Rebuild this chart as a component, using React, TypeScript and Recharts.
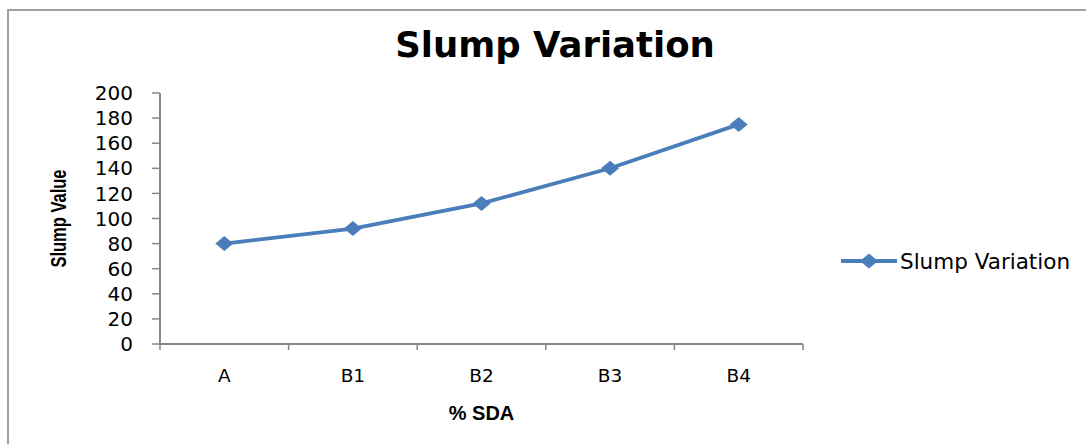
import React from "react";
import { LineChart, Line, XAxis, YAxis, Legend } from "recharts";

const categories = ["A", "B1", "B2", "B3", "B4"];
const slumpValues = [80, 92, 112, 140, 175];
const yTicks = [0, 20, 40, 60, 80, 100, 120, 140, 160, 180, 200];
const seriesName = "Slump Variation";

const BLUE = "#4a7ebb";
const GRID = "#888888";
const FONT = "'DejaVu Sans', Verdana, sans-serif";

const data = categories.map((name, i) => ({ x: i, name, slump: slumpValues[i] }));

// category centres get the labels, the half steps get the tick marks (Excel style)
const xTicks: number[] = [];
for (let i = 0; i <= categories.length; i++) {
  xTicks.push(i - 0.5);
  if (i < categories.length) xTicks.push(i);
}

const Diamond = ({ cx, cy }: any) => {
  if (cx == null || cy == null) return null;
  return (
    <path
      d={`M${cx},${cy - 7.5} L${cx + 9},${cy} L${cx},${cy + 7.5} L${cx - 9},${cy} Z`}
      fill={BLUE}
    />
  );
};

const XTick = ({ x, y, payload }: any) => {
  const v = payload.value;
  if (Number.isInteger(v)) {
    return (
      <text x={x} y={y + 32} textAnchor="middle" fontSize={18.5} fill="#000" fontFamily={FONT}>
        {categories[v]}
      </text>
    );
  }
  return <line x1={x} x2={x} y1={y - 6} y2={y} stroke={GRID} strokeWidth={1.5} />;
};

const YLabel = ({ viewBox }: any) => {
  const cx = viewBox.x - 22;
  const cy = viewBox.y + viewBox.height / 2;
  return (
    <text
      x={0}
      y={0}
      transform={`translate(${cx} ${cy}) rotate(-90) scale(0.75 1)`}
      textAnchor="middle"
      dominantBaseline="central"
      fontSize={22}
      fontWeight="bold"
      fill="#000"
      fontFamily="'Liberation Sans', Arial, sans-serif"
    >
      Slump Value
    </text>
  );
};

const XLabel = ({ viewBox }: any) => (
  <text
    x={viewBox.x + viewBox.width / 2}
    y={viewBox.y + 76}
    textAnchor="middle"
    fontSize={20}
    fontWeight="bold"
    fill="#000"
    fontFamily="'Liberation Sans', Arial, sans-serif"
  >
    % SDA
  </text>
);

const LegendContent = () => (
  <div style={{ display: "flex", alignItems: "center", height: 24 }}>
    <svg width={56} height={24}>
      <line x1={0} x2={56} y1={12} y2={12} stroke={BLUE} strokeWidth={3.8} />
      <Diamond cx={28} cy={12} />
    </svg>
    <span style={{ marginLeft: 3, fontSize: 21.5, fontFamily: FONT, color: "#000" }}>
      {seriesName}
    </span>
  </div>
);

export default function App() {
  return (
    <div
      style={{
        position: "absolute",
        left: 7,
        top: 9,
        width: 1079,
        height: 435,
        boxSizing: "border-box",
        borderLeft: "2px solid #a0a0a0",
        borderTop: "2px solid #a0a0a0",
        overflow: "hidden",
        background: "#fff",
      }}
    >
      <div
        style={{
          position: "absolute",
          left: 246,
          width: 600,
          top: 16,
          textAlign: "center",
          fontFamily: FONT,
          fontWeight: "bold",
          fontSize: 35.5,
          lineHeight: "35.5px",
          color: "#000",
          zIndex: 1,
        }}
      >
        Slump Variation
      </div>
      <LineChart
        width={1077}
        height={433}
        data={data}
        margin={{ top: 82, right: 283, bottom: 36, left: 71 }}
      >
        <XAxis
          dataKey="x"
          type="number"
          domain={[-0.5, categories.length - 0.5]}
          ticks={xTicks}
          interval={0}
          height={40}
          tickSize={6}
          tickMargin={0}
          tickLine={false}
          tick={<XTick />}
          axisLine={{ stroke: GRID, strokeWidth: 2 }}
          label={<XLabel />}
        />
        <YAxis
          type="number"
          domain={[0, 200]}
          ticks={yTicks}
          interval={0}
          width={80}
          tickSize={8}
          tickMargin={19}
          tick={{ fill: "#000", fontSize: 20, fontFamily: FONT }}
          tickLine={{ stroke: GRID, strokeWidth: 1.5 }}
          axisLine={{ stroke: GRID, strokeWidth: 2 }}
          label={<YLabel />}
        />
        <Legend
          content={<LegendContent />}
          wrapperStyle={{ left: 832, top: 238, right: "auto", bottom: "auto", width: 245 }}
        />
        <Line
          type="linear"
          dataKey="slump"
          name={seriesName}
          stroke={BLUE}
          strokeWidth={3.8}
          dot={<Diamond />}
          activeDot={false}
          isAnimationActive={false}
        />
      </LineChart>
    </div>
  );
}
